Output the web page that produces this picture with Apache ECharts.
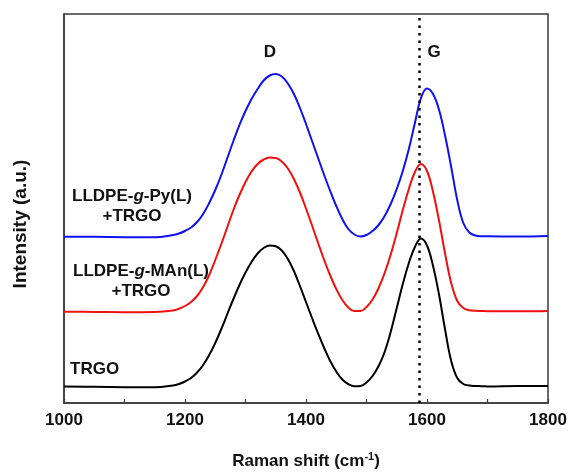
<!DOCTYPE html>
<html>
<head>
<meta charset="utf-8">
<title>Raman spectra</title>
<script src="https://cdn.jsdelivr.net/npm/echarts@6/dist/echarts.min.js"></script>
<style>
  html, body { margin: 0; padding: 0; background: #ffffff; }
  #chart { width: 570px; height: 473px; }
</style>
</head>
<body>
<div id="chart"></div>
<script>
// Raman shift sampling points (cm-1): coarse on the flat baseline, 10 cm-1 across the bands
const ramanShift = [1000, 1050, 1100, 1150,
  1180, 1190, 1200, 1210, 1220, 1230, 1240, 1250, 1260, 1270,
  1280, 1290, 1300, 1310, 1320, 1330, 1340, 1350, 1360, 1370,
  1380, 1390, 1400, 1410, 1420, 1430, 1440, 1450, 1460, 1470,
  1480, 1490, 1500, 1510, 1520, 1530, 1540, 1550, 1560, 1570,
  1580, 1590, 1600, 1610, 1620, 1630, 1640, 1650, 1660, 1670,
  1680, 1690, 1700,
  1750, 1800];

// Stacked (offset) intensities, arbitrary units
const trgo = [16.5, 16.2, 15.8, 15.7,
  17.5, 19, 21.5, 25, 30.5, 38, 48, 60, 74, 89,
  104, 118, 130.5, 141, 149.5, 155, 157.6, 156.8, 152.5, 144,
  132, 117, 101, 85, 69.5, 55, 42, 31.5, 23.5, 18.8,
  16.7, 17, 20.5, 27, 37, 51, 71, 95, 119, 140,
  156, 164.5, 157.5, 137, 108, 73, 42, 25, 19, 17.5,
  17, 16.8, 16.5,
  17, 17];

const lldpeMAn = [91.3, 91.1, 90.8, 91,
  92.5, 94.3, 97, 101, 107, 116, 128, 143, 159, 176,
  193, 208, 221, 231.5, 239, 243.5, 245.5, 245, 241.5, 234.5,
  224, 210.5, 194.5, 177.5, 160, 143, 127.5, 114, 103, 95.5,
  92, 92, 96, 103.5, 115, 130, 148.5, 170, 193, 214,
  231, 239, 232, 211, 182, 149, 120, 102, 95, 92.8,
  92.2, 92, 91.8,
  91.7, 92];

const lldpePy = [166.3, 166.2, 165.8, 165.7,
  168, 169.5, 172, 175.5, 181, 189, 200, 213, 228, 245,
  262, 278, 292, 304, 314, 322.5, 327.5, 329, 326.5, 319.5,
  309, 295, 279, 262, 245, 228, 212, 197, 184, 174,
  168.5, 166.5, 168, 172, 178, 187, 199, 214, 232, 254,
  280, 305, 314.5, 309, 293, 267, 236, 203, 180, 170.5,
  167.5, 166.8, 166.7,
  166.5, 167];

// G-band reference position (cm-1)
const gBandPosition = 1588;

const xTicks = { min: 1000, max: 1800, interval: 200 };

const FONT = '"Liberation Sans", Arial, Helvetica, sans-serif';

function pairs(ys) {
  return ramanShift.map((x, i) => [x, ys[i]]);
}

const chart = echarts.init(document.getElementById('chart'), null, { renderer: 'canvas' });

const lineBase = {
  type: 'line',
  showSymbol: false,
  smooth: 0.4,
  animation: false,
  lineStyle: { width: 2 }
};

chart.setOption({
  backgroundColor: '#ffffff',
  animation: false,
  grid: {
    left: 64, top: 14, right: 22, bottom: 70,
    show: true, borderColor: '#3a3a3a', borderWidth: 1.5, backgroundColor: 'transparent'
  },
  xAxis: {
    type: 'value',
    min: xTicks.min, max: xTicks.max, interval: xTicks.interval,
    axisLine: { show: true, onZero: false, lineStyle: { color: '#3a3a3a', width: 1.5 } },
    axisTick: { show: true, inside: true, length: 4, lineStyle: { color: '#3a3a3a', width: 1.2 } },
    minorTick: { show: true, splitNumber: 2, length: 4, lineStyle: { color: '#3a3a3a', width: 1.2 } },
    splitLine: { show: false },
    axisLabel: {
      color: '#111', fontFamily: FONT, fontWeight: 'bold', fontSize: 17, margin: 9,
      formatter: (v) => String(v)
    }
  },
  yAxis: {
    type: 'value', min: 0, max: 389,
    axisLine: { show: true, lineStyle: { color: '#3a3a3a', width: 1.5 } },
    axisTick: { show: false },
    axisLabel: { show: false },
    splitLine: { show: false }
  },
  series: [
    Object.assign({}, lineBase, {
      name: 'TRGO', data: pairs(trgo), color: '#000000',
      markLine: {
        silent: true, symbol: ['none', 'none'], animation: false,
        label: { show: false },
        lineStyle: { color: '#000000', width: 2.5, type: [2.5, 5], cap: 'butt' },
        data: [{ xAxis: gBandPosition }]
      }
    }),
    Object.assign({}, lineBase, { name: 'LLDPE-g-MAn(L)+TRGO', data: pairs(lldpeMAn), color: '#f01010' }),
    Object.assign({}, lineBase, { name: 'LLDPE-g-Py(L)+TRGO', data: pairs(lldpePy), color: '#1010f0' })
  ],
  graphic: [
    {
      type: 'text', x: 270, y: 52,
      style: { text: 'D', font: 'bold 17px ' + FONT, fill: '#111', align: 'center', verticalAlign: 'middle' }
    },
    {
      type: 'text', x: 434, y: 52,
      style: { text: 'G', font: 'bold 17px ' + FONT, fill: '#111', align: 'center', verticalAlign: 'middle' }
    },
    {
      type: 'text', x: 132, y: 206,
      style: {
        text: 'LLDPE-{i|g}-Py(L)\n+TRGO',
        font: 'bold 17px ' + FONT, fill: '#111', align: 'center', verticalAlign: 'middle', lineHeight: 20,
        rich: { i: { fontStyle: 'italic', fontWeight: 'bold', fontSize: 17, fontFamily: FONT, fill: '#111', lineHeight: 20 } }
      }
    },
    {
      type: 'text', x: 141, y: 281,
      style: {
        text: 'LLDPE-{i|g}-MAn(L)\n+TRGO',
        font: 'bold 17px ' + FONT, fill: '#111', align: 'center', verticalAlign: 'middle', lineHeight: 20,
        rich: { i: { fontStyle: 'italic', fontWeight: 'bold', fontSize: 17, fontFamily: FONT, fill: '#111', lineHeight: 20 } }
      }
    },
    {
      type: 'text', x: 70, y: 369,
      style: { text: 'TRGO', font: 'bold 17px ' + FONT, fill: '#111', align: 'left', verticalAlign: 'middle' }
    },
    {
      type: 'text', x: 306, y: 461,
      style: {
        text: 'Raman shift (cm{sup|-1})',
        font: 'bold 17px ' + FONT, fill: '#111', align: 'center', verticalAlign: 'middle',
        rich: { sup: { fontSize: 11, fontWeight: 'bold', fontFamily: FONT, fill: '#111', verticalAlign: 'top', padding: [0, 0, 8, 0] } }
      }
    },
    {
      type: 'text', x: 21, y: 224, rotation: Math.PI / 2,
      style: { text: 'Intensity (a.u.)', font: 'bold 19px ' + FONT, fill: '#111', align: 'center', verticalAlign: 'middle' }
    }
  ]
});
</script>
</body>
</html>
